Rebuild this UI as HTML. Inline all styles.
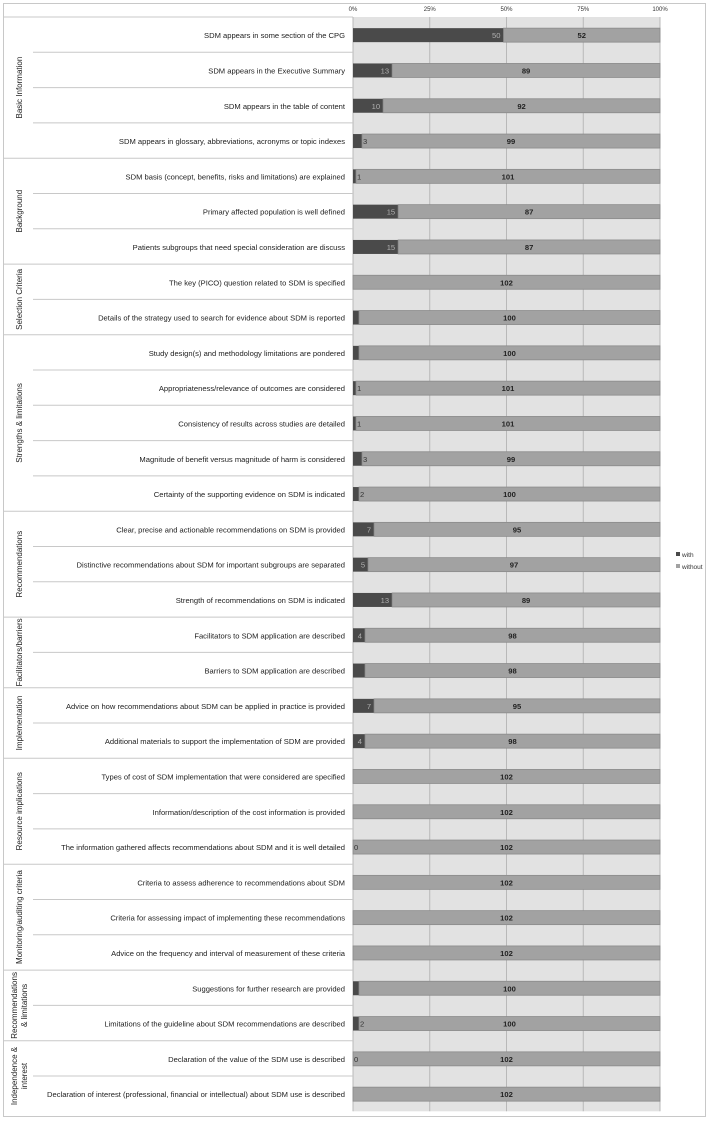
<!DOCTYPE html>
<html><head><meta charset="utf-8"><style>
html,body{margin:0;padding:0;background:#fff;}
svg{display:block;font-family:"Liberation Sans",sans-serif;}
</style></head><body>
<svg id="chart" width="709" height="1121" viewBox="0 0 709 1121" xmlns="http://www.w3.org/2000/svg"></svg>
<script>
const categories=["SDM appears in some section of the CPG","SDM appears in the Executive Summary","SDM appears in the table of content","SDM appears in glossary, abbreviations, acronyms or topic indexes","SDM basis (concept, benefits, risks and limitations) are explained","Primary affected population is well defined","Patients subgroups that need special consideration are discuss","The key (PICO) question related to SDM is specified","Details of the strategy used to search for evidence about SDM is reported","Study design(s) and methodology limitations are pondered","Appropriateness/relevance of outcomes are considered","Consistency of results across studies are detailed","Magnitude of benefit versus magnitude of harm is considered","Certainty of the supporting evidence on SDM is indicated","Clear, precise and actionable recommendations on SDM is provided","Distinctive recommendations about SDM for important subgroups are separated","Strength of recommendations on SDM is indicated","Facilitators to SDM application are described","Barriers to SDM application are described","Advice on how recommendations about SDM can be applied in practice is provided","Additional materials to support the implementation of SDM are provided","Types of cost of SDM implementation that were considered are specified","Information/description of the cost information is provided","The information gathered affects recommendations about SDM and it is well detailed","Criteria to assess adherence to recommendations about SDM","Criteria for assessing impact of implementing these recommendations","Advice on the frequency and interval of measurement of these criteria","Suggestions for further research are provided","Limitations of the guideline about SDM recommendations are described","Declaration of the value of the SDM use is described","Declaration of interest (professional, financial or intellectual) about SDM use is described"];
const withValues=[50,13,10,3,1,15,15,0,2,2,1,1,3,2,7,5,13,4,4,7,4,0,0,0,0,0,0,2,2,0,0];
const withoutValues=[52,89,92,99,101,87,87,102,100,100,101,101,99,100,95,97,89,98,98,95,98,102,102,102,102,102,102,100,100,102,102];
const withLabels=["50","13","10","3","1","15","15","","","","1","1","3","2","7","5","13","4","","7","4","","","0","","","","","2","0",""];
const groupNames=[["Basic Information"],["Background"],["Selection Criteria"],["Strengths & limitations"],["Recommendations"],["Facilitators/barriers"],["Implementation"],["Resource implications"],["Monitoring/auditing criteria"],["Recommendations","& limitations"],["Independence &","interest"]];
const groupSizes=[4,3,2,5,3,2,2,3,3,2,2];
const tickLabels=["0%","25%","50%","75%","100%"];
const tickValues=[0,0.25,0.5,0.75,1];

const svg=document.getElementById('chart');
const NS='http://www.w3.org/2000/svg';
const X0=353,X1=660,Y0=17,ROW=35.3;
function xs(f){return X0+f*(X1-X0);}
function yRow(i){return Y0+i*ROW;}
function mk(tag,attrs,parent){const e=document.createElementNS(NS,tag);for(const k in attrs)e.setAttribute(k,attrs[k]);(parent||svg).appendChild(e);return e;}
const N=categories.length;
let e;
e=mk('rect',{x:3.5,y:3.5,width:702,height:1113,fill:'#fff',stroke:'#c8c8c8'});


e=mk('rect',{x:X0,y:Y0,width:X1-X0,height:N*ROW,fill:'#e2e2e2'});


mk('line',{x1:3,x2:X0,y1:Y0,y2:Y0,stroke:'#c8c8c8'});
tickValues.forEach((t,i)=>{
  const g=mk('line',{x1:xs(t),x2:xs(t),y1:Y0,y2:Y0+N*ROW,stroke:'#b8b8b8'});
  
  
  const tl=mk('text',{x:xs(t),y:11,'font-size':6,'text-anchor':'middle',fill:'#333'});
  tl.textContent=tickLabels[i];
  
  
});
let acc=0;
groupSizes.forEach((s,gi)=>{
  const top=yRow(acc),bot=yRow(acc+s);
  for(let r=1;r<s;r++){mk('line',{x1:33,x2:X0,y1:yRow(acc+r),y2:yRow(acc+r),stroke:'#c8c8c8'});}
  if(gi<groupSizes.length-1){mk('line',{x1:3,x2:X0,y1:bot,y2:bot,stroke:'#c8c8c8'});}
  const cy=(top+bot)/2,lines=groupNames[gi];
  lines.forEach((ln,li)=>{
    const cx=20+(li-(lines.length-1)/2)*10;
    const t=mk('text',{x:cx,y:cy,'font-size':8,'text-anchor':'middle','dominant-baseline':'middle',fill:'#222',transform:`rotate(-90 ${cx} ${cy})`});
    t.textContent=ln;
    
    
  });
  acc+=s;
});
for(let i=0;i<N;i++){
  const cy=yRow(i)+ROW/2+0.5,total=withValues[i]+withoutValues[i];
  const t=mk('text',{x:345,y:cy+3,'font-size':7.6,'text-anchor':'end',fill:'#222'});
  t.textContent=categories[i];
  
  
  const wEnd=xs(withValues[i]/total);
  const b1=mk('rect',{x:X0,y:cy-7,width:wEnd-X0,height:14,fill:'#4a4a4a'});
  
  
  const b2=mk('rect',{x:wEnd,y:cy-7,width:X1-wEnd,height:14,fill:'#a2a2a2',stroke:'#8a8a8a','stroke-width':0.8});
  
  
  if(withLabels[i]!==''){
    const tw=withLabels[i].length*4.2;
    const inside=(wEnd-X0)>tw+5;
    const lx=inside?wEnd-3:wEnd+1+tw;
    const l=mk('text',{x:lx,y:cy+3,'font-size':7.6,'text-anchor':'end',fill:inside?'#b0b0b0':'#333'});
    l.textContent=withLabels[i];
    
    
  }
  const l2=mk('text',{x:(wEnd+X1)/2,y:cy+3,'font-size':7.6,'font-weight':'bold','text-anchor':'middle',fill:'#222'});
  l2.textContent=withoutValues[i];
  
  
}
const lg=[['with','#4a4a4a'],['without','#a2a2a2']];
lg.forEach((d,i)=>{
  const r=mk('rect',{x:676,y:552+i*12,width:4,height:4,fill:d[1]});
  
  
  const t=mk('text',{x:682,y:557+i*12,'font-size':6.5,fill:'#333'});
  t.textContent=d[0];
  
  
});
</script>
</body></html>
